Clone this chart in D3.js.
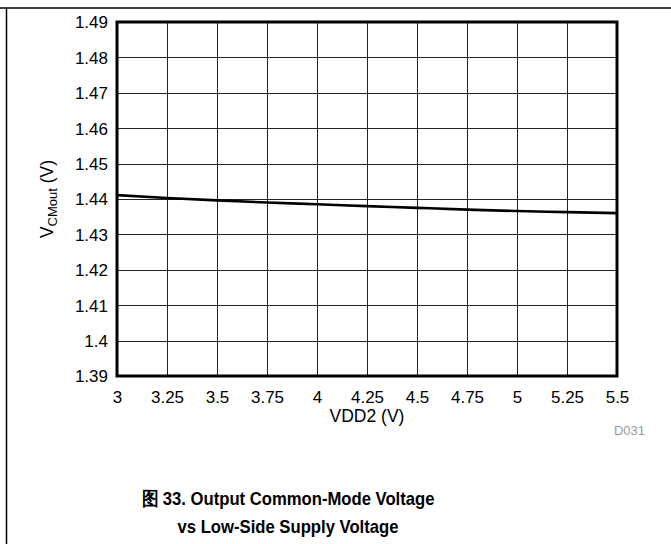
<!DOCTYPE html>
<html>
<head>
<meta charset="utf-8">
<script src="https://cdn.jsdelivr.net/npm/d3@7"></script>
<style>
  html, body { margin: 0; padding: 0; background: #fff; }
  svg { display: block; }
  text { font-family: "Liberation Sans", Arial, sans-serif; }
</style>
</head>
<body>
<svg id="chart" width="671" height="544"></svg>
<script>
// Data
const vdd2 = [3, 3.25, 3.5, 3.75, 4, 4.25, 4.5, 4.75, 5, 5.25, 5.5];
const vcmout = [1.4411, 1.4403, 1.4396, 1.4390, 1.4385, 1.4380, 1.4375, 1.4370, 1.4366, 1.4363, 1.4360];
const xTicks = [3, 3.25, 3.5, 3.75, 4, 4.25, 4.5, 4.75, 5, 5.25, 5.5];
const yTicks = [1.39, 1.4, 1.41, 1.42, 1.43, 1.44, 1.45, 1.46, 1.47, 1.48, 1.49];
const xTitle = "VDD2 (V)";
const titleLines = ["图 33. Output Common-Mode Voltage", "vs Low-Side Supply Voltage"];
const codeLabel = "D031";

(function () {
const svg = d3.select("#chart");
const W = 671, H = 544;
const pL = 117, pR = 617, pT = 22, pB = 376;

// Outer frame lines (top + left)
svg.append("line").attr("x1", 0).attr("x2", W).attr("y1", 8).attr("y2", 8)
  .attr("stroke", "#000").attr("stroke-width", 1.5);
svg.append("line").attr("x1", 6.5).attr("x2", 6.5).attr("y1", 8).attr("y2", H)
  .attr("stroke", "#000").attr("stroke-width", 1.5);

const x = d3.scaleLinear().domain([3, 5.5]).range([pL, pR]);
const y = d3.scaleLinear().domain([1.39, 1.49]).range([pB, pT]);

// Grid
const grid = svg.append("g");
grid.selectAll("line.v").data(xTicks).join("line").attr("class", "v")
  .attr("x1", d => Math.round(x(d)) + 0.5).attr("x2", d => Math.round(x(d)) + 0.5)
  .attr("y1", pT).attr("y2", pB)
  .attr("stroke", "#222").attr("stroke-width", 1);
grid.selectAll("line.h").data(yTicks).join("line").attr("class", "h")
  .attr("y1", d => Math.round(y(d)) + 0.5).attr("y2", d => Math.round(y(d)) + 0.5)
  .attr("x1", pL).attr("x2", pR)
  .attr("stroke", "#222").attr("stroke-width", 1);

// Axes (labels only)
const xAxis = d3.axisBottom(x).tickValues(xTicks).tickSize(0).tickPadding(0)
  .tickFormat(d => String(d));
const gx = svg.append("g").attr("transform", `translate(0,${pB})`).call(xAxis);
gx.select(".domain").remove();
gx.attr("font-family", null).attr("font-size", null);
gx.selectAll("text").attr("font-size", 17).attr("fill", "#000")
  .attr("dy", null).attr("y", 27);

const yAxis = d3.axisLeft(y).tickValues(yTicks).tickSize(0).tickPadding(0)
  .tickFormat(d => String(+d.toFixed(2)));
const gy = svg.append("g").attr("transform", `translate(${pL - 9},0)`).call(yAxis);
gy.select(".domain").remove();
gy.attr("font-family", null).attr("font-size", null);
gy.selectAll("text").attr("font-size", 17).attr("fill", "#000")
  .attr("dy", "0.35em");

// Line
const line = d3.line().x((d, i) => x(vdd2[i])).y(d => y(d)).curve(d3.curveMonotoneX);
svg.append("path").datum(vcmout).attr("d", line)
  .attr("fill", "none").attr("stroke", "#000").attr("stroke-width", 2.6);

// Plot frame
svg.append("rect").attr("x", pL).attr("y", pT)
  .attr("width", pR - pL).attr("height", pB - pT)
  .attr("fill", "none").attr("stroke", "#000").attr("stroke-width", 3);

// Axis titles
svg.append("text").attr("x", (pL + pR) / 2).attr("y", 422)
  .attr("text-anchor", "middle").attr("font-size", 17.5).text(xTitle);

const yt = svg.append("text")
  .attr("transform", `translate(53,${(pT + pB) / 2}) rotate(-90)`)
  .attr("text-anchor", "middle").attr("font-size", 17.5);
yt.append("tspan").text("V");
yt.append("tspan").attr("font-size", 13).attr("dy", 4).text("CMout");
yt.append("tspan").attr("dy", -4).text(" (V)");

// Code label
svg.append("text").attr("x", 645).attr("y", 435).attr("text-anchor", "end")
  .attr("font-size", 13).attr("fill", "#999").text(codeLabel);

// Figure caption
const capW = [293, 221];
svg.selectAll("text.cap").data(titleLines).join("text")
  .attr("class", "cap")
  .attr("x", 288).attr("y", (d, i) => 505 + i * 28)
  .attr("text-anchor", "middle").attr("font-size", 19).attr("font-weight", "bold")
  .attr("textLength", (d, i) => capW[i]).attr("lengthAdjust", "spacingAndGlyphs")
  .text(d => d);
})();
</script>
</body>
</html>
